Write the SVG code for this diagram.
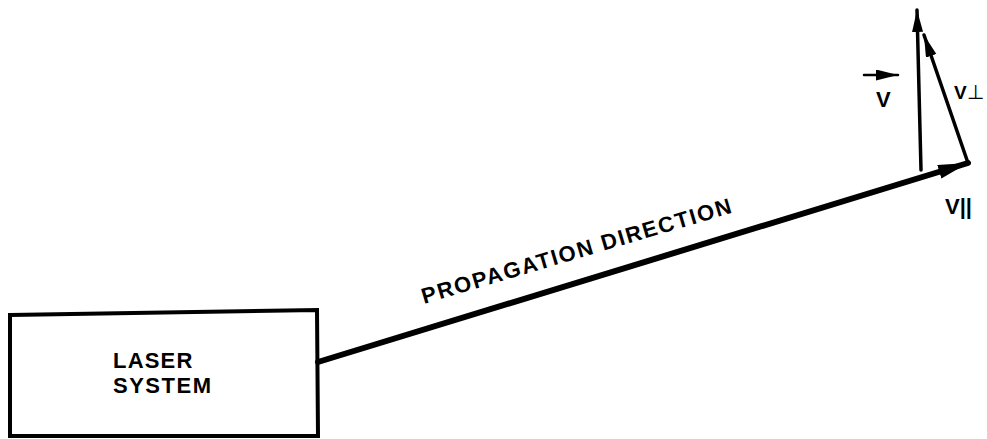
<svg xmlns="http://www.w3.org/2000/svg" width="987" height="439" viewBox="0 0 987 439">
<style>
.t{font-family:"Liberation Sans",Arial,sans-serif;font-weight:bold;fill:#000}
.ln{stroke:#000;fill:none;stroke-linecap:round}
</style>
<defs>
<marker id="ahBig" markerUnits="userSpaceOnUse" markerWidth="32" markerHeight="16" refX="30" refY="7" orient="auto"><path d="M0,0 L30,7 L0,14 Z" fill="#000"/></marker>
<marker id="ahSm" markerUnits="userSpaceOnUse" markerWidth="24" markerHeight="14" refX="22" refY="5.5" orient="auto"><path d="M0,0 L22,5.5 L0,11 Z" fill="#000"/></marker>
</defs>
<rect width="987" height="439" fill="#fff"/>
<g id="laser-system">
<polygon points="10,315 317,310 318,436 10,436" fill="none" stroke="#000" stroke-width="4"/>
<text class="t" x="113" y="368" font-size="22" letter-spacing="1.2">LASER</text>
<text class="t" x="113" y="393" font-size="22" letter-spacing="1.5">SYSTEM</text>
</g>
<g id="connectors">
<line class="ln" x1="318" y1="362" x2="968" y2="163" stroke-width="6" marker-end="url(#ahBig)"/>
<line class="ln" x1="921" y1="170" x2="917" y2="10" stroke-width="3.5" marker-end="url(#ahSm)"/>
<line class="ln" x1="968" y1="163" x2="924" y2="35" stroke-width="3.5" marker-end="url(#ahSm)"/>
<line class="ln" x1="864" y1="75" x2="898" y2="75" stroke-width="2.5" marker-end="url(#ahSm)"/>
</g>
<g id="labels">
<text class="t" transform="translate(424,304) rotate(-16.5)" font-size="22" textLength="322" lengthAdjust="spacing">PROPAGATION DIRECTION</text>
<text class="t" x="876" y="107" font-size="22">V</text>
<text class="t" x="954" y="99" font-size="19">V<tspan font-family="DejaVu Sans,sans-serif" font-weight="normal" font-size="20">⊥</tspan></text>
<text class="t" x="945" y="214" font-size="22">V||</text>
</g>
</svg>
